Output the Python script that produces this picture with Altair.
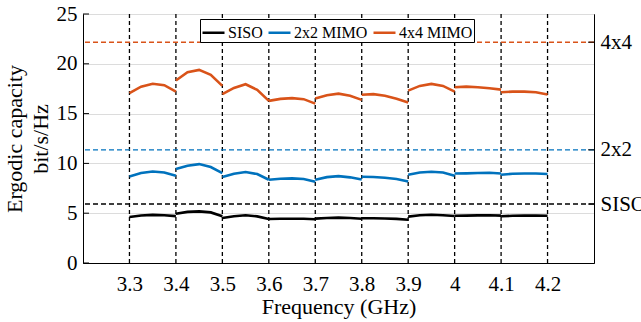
import altair as alt
import pandas as pd

# Sub-band start frequencies (GHz) and sample offsets within each 100 MHz band
band_starts = [3.3, 3.4, 3.5, 3.6, 3.7, 3.8, 3.9, 4.0, 4.1]
offsets = [0.0, 0.025, 0.05, 0.075, 0.1]

# Ergodic capacity per band (bit/s/Hz)
siso = [
    [4.62, 4.77, 4.83, 4.80, 4.71],
    [4.95, 5.13, 5.18, 5.08, 4.70],
    [4.52, 4.70, 4.80, 4.68, 4.42],
    [4.42, 4.44, 4.45, 4.44, 4.40],
    [4.46, 4.52, 4.56, 4.52, 4.44],
    [4.50, 4.50, 4.47, 4.43, 4.34],
    [4.66, 4.80, 4.84, 4.80, 4.72],
    [4.74, 4.76, 4.78, 4.79, 4.76],
    [4.70, 4.74, 4.76, 4.76, 4.74],
]
mimo2 = [
    [8.69, 9.03, 9.19, 9.09, 8.76],
    [9.43, 9.76, 9.93, 9.63, 9.03],
    [8.63, 8.96, 9.13, 8.93, 8.36],
    [8.36, 8.46, 8.50, 8.43, 8.16],
    [8.36, 8.62, 8.72, 8.60, 8.38],
    [8.66, 8.63, 8.56, 8.43, 8.19],
    [8.86, 9.09, 9.16, 9.09, 8.76],
    [8.99, 9.00, 9.03, 9.06, 8.99],
    [8.86, 8.96, 8.99, 8.99, 8.93],
]
mimo4 = [
    [17.05, 17.70, 18.00, 17.85, 17.20],
    [18.32, 19.15, 19.39, 18.89, 17.78],
    [16.95, 17.58, 17.95, 17.38, 16.28],
    [16.28, 16.48, 16.55, 16.45, 16.00],
    [16.51, 16.85, 17.00, 16.80, 16.38],
    [16.90, 16.95, 16.80, 16.50, 16.11],
    [17.31, 17.78, 17.98, 17.78, 17.21],
    [17.65, 17.71, 17.65, 17.55, 17.41],
    [17.15, 17.21, 17.21, 17.15, 16.91],
]

series_names = ["SISO", "2x2 MIMO", "4x4 MIMO"]
series_colors = ["#000000", "#0072BD", "#D95319"]

# Reference capacity levels shown as dashed lines with labels on the right
ref_labels = ["SISO", "2x2", "4x4"]
ref_values = [5.92, 11.36, 22.17]

# Band edges marked with vertical dashed lines
freq_ticks = [3.3, 3.4, 3.5, 3.6, 3.7, 3.8, 3.9, 4.0, 4.1, 4.2]
y_ticks = [0, 5, 10, 15, 20, 25]

FONT = "Liberation Serif"
TICK_FS = 21
TITLE_FS = 22

rows = []
for name, table in zip(series_names, [siso, mimo2, mimo4]):
    for b, start in enumerate(band_starts):
        for off, val in zip(offsets, table[b]):
            rows.append({"series": name, "band": b, "freq": round(start + off, 3), "cap": val})
curves_df = pd.DataFrame(rows)

ref_df = pd.DataFrame({"label": ref_labels, "value": ref_values, "color": series_colors})
vline_df = pd.DataFrame({"freq": freq_ticks})
ytick_df = pd.DataFrame({"v": y_ticks})

x_scale = alt.Scale(domain=[3.2, 4.3], nice=False, zero=False)
y_scale = alt.Scale(domain=[0, 25], nice=False, zero=False)

vlines = alt.Chart(vline_df).mark_rule(
    color="black", strokeDash=[4, 3], strokeWidth=1.3
).encode(x=alt.X("freq:Q", scale=x_scale))

label_expr = "datum.value > 20 ? '4x4' : datum.value > 10 ? '2x2' : 'SISO'"
hlines = alt.Chart(ref_df).mark_rule(strokeDash=[5, 3], strokeWidth=1.4).encode(
    y=alt.Y(
        "value:Q",
        scale=y_scale,
        axis=alt.Axis(
            orient="right", values=ref_values, labelExpr=label_expr, title=None,
            grid=False, ticks=False, labelPadding=6, labelFontSize=TICK_FS,
            labelFont=FONT, labelColor="black", domainColor="black",
        ),
    ),
    color=alt.Color("color:N", scale=None),
)

right_ticks = alt.Chart(ref_df).mark_rule(color="black", strokeWidth=1).encode(
    y=alt.Y("value:Q", scale=y_scale, axis=None),
    x=alt.value(505), x2=alt.value(511),
)

curves = alt.Chart(curves_df).mark_line(strokeWidth=2.6).encode(
    x=alt.X(
        "freq:Q", scale=x_scale,
        axis=alt.Axis(
            values=freq_ticks, format="~g", title="Frequency (GHz)", grid=False,
            ticks=False, labelPadding=10, labelFontSize=TICK_FS, labelFont=FONT,
            titleFont=FONT, titleFontSize=TITLE_FS, titleFontWeight="normal",
            titlePadding=2, labelColor="black", titleColor="black", domainColor="black",
        ),
    ),
    y=alt.Y(
        "cap:Q", scale=y_scale,
        axis=alt.Axis(
            values=y_ticks, title=["Ergodic capacity", "bit/s/Hz"], grid=True,
            gridColor="#dcdcdc", ticks=False, labelPadding=6, labelFontSize=TICK_FS,
            labelFont=FONT, titleFont=FONT, titleFontSize=TITLE_FS, titleFontWeight="normal",
            titleLineHeight=26, titlePadding=4, labelColor="black", titleColor="black",
            domainColor="black",
        ),
    ),
    color=alt.Color(
        "series:N",
        scale=alt.Scale(domain=series_names, range=series_colors),
        sort=series_names,
        legend=alt.Legend(
            title=None, orient="none", legendX=117, legendY=5, direction="horizontal",
            symbolType="stroke", symbolSize=484, symbolStrokeWidth=2.5,
            labelFont=FONT, labelFontSize=16, labelColor="black", labelOffset=2,
            columnPadding=0, padding=1, strokeColor="black", fillColor="white",
        ),
    ),
    detail="band:N",
)

left_ticks = alt.Chart(ytick_df).mark_rule(color="black", strokeWidth=1).encode(
    y=alt.Y("v:Q", scale=y_scale, axis=None),
    x=alt.value(0), x2=alt.value(6),
)

chart = (
    alt.layer(vlines, hlines, right_ticks, left_ticks, curves)
    .resolve_axis(y="independent")
    .properties(
        width=511, height=249,
        autosize=alt.AutoSizeParams(type="none"),
        padding={"left": 83, "top": 14, "right": 47, "bottom": 59},
        background="white",
    )
    .configure_view(stroke="black", strokeWidth=1)
    .configure_axis(domainWidth=1)
)

chart.save("out.html", embed_options={"renderer": "svg", "actions": False})
